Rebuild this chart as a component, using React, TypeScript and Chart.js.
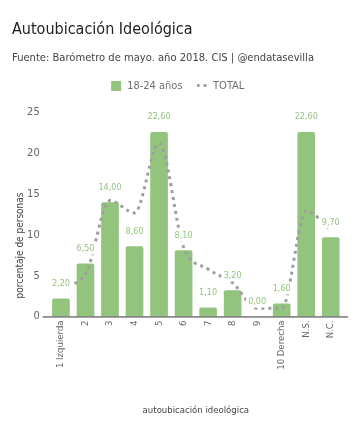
import React, { useEffect, useRef } from "react";
import { Chart, registerables, layouts } from "chart.js";

Chart.register(...registerables);

const categories = ["1 Izquierda", "2", "3", "4", "5", "6", "7", "8", "9", "10 Derecha", "N.S.", "N.C."];
const youthValues = [2.2, 6.5, 14.0, 8.6, 22.6, 8.1, 1.1, 3.2, 0.0, 1.6, 22.6, 9.7];
const totalValues = [3.6, 5.2, 14.2, 12.7, 21.2, 8.5, 5.8, 4.1, 1.0, 1.0, 12.9, 10.6];
const yTicks = [0, 5, 10, 15, 20, 25];

const FONT = "'DejaVu Sans Condensed', 'Liberation Sans', sans-serif";
const GREEN = "#93c47d";
const GREY_LINE = "#9e9e9e";

function dashMarker(): HTMLCanvasElement {
  const c = document.createElement("canvas");
  c.width = 11;
  c.height = 3;
  const ctx = c.getContext("2d")!;
  ctx.fillStyle = GREY_LINE;
  ctx.fillRect(0, 0, 3, 3);
  ctx.fillRect(7, 0, 3, 3);
  return c;
}

const spacerPlugin = {
  id: "legendSpacer",
  beforeInit(chart: any) {
    const box: any = {
      position: "top",
      weight: 1,
      fullSize: true,
      options: {},
      left: 0,
      top: 0,
      right: 0,
      bottom: 0,
      width: 0,
      height: 0,
      isHorizontal() {
        return true;
      },
      update(maxWidth: number) {
        this.width = maxWidth;
        this.height = 11;
      },
      draw() {},
    };
    layouts.addBox(chart, box);
  },
};

const labelPlugin = {
  id: "barLabels",
  afterDatasetsDraw(chart: any) {
    const ctx = chart.ctx;
    const meta = chart.getDatasetMeta(0);
    ctx.save();
    ctx.font = `9px ${FONT}`;
    ctx.textAlign = "center";
    ctx.textBaseline = "middle";
    meta.data.forEach((bar: any, i: number) => {
      const txt = youthValues[i].toFixed(2).replace(".", ",");
      const y = bar.y - 15;
      const w = ctx.measureText(txt).width;
      ctx.fillStyle = "#ffffff";
      ctx.fillRect(bar.x - w / 2 - 2, y - 6, w + 4, 12);
      ctx.fillStyle = GREEN;
      ctx.fillText(txt, bar.x, y);
    });
    ctx.restore();
  },
};

const axisPlugin = {
  id: "axisDecor",
  afterDraw(chart: any) {
    const { ctx, chartArea } = chart;
    ctx.save();
    ctx.strokeStyle = "#333333";
    ctx.lineWidth = 1;
    ctx.beginPath();
    ctx.moveTo(chartArea.left - 6, chartArea.bottom + 0.5);
    ctx.lineTo(chartArea.right + 5, chartArea.bottom + 0.5);
    ctx.stroke();
    ctx.translate(20, chartArea.bottom - 71);
    ctx.rotate(-Math.PI / 2);
    ctx.font = `10px ${FONT}`;
    ctx.fillStyle = "#444444";
    ctx.textAlign = "center";
    ctx.textBaseline = "middle";
    ctx.fillText("porcentaje de personas", 0, 0);
    ctx.restore();
  },
};

export default function App() {
  const ref = useRef<HTMLCanvasElement | null>(null);
  useEffect(() => {
    if (!ref.current) return;
    const marker = dashMarker();
    const chart = new Chart(ref.current, {
      type: "bar",
      data: {
        labels: categories,
        datasets: [
          {
            type: "bar",
            label: "18-24 años",
            data: youthValues,
            backgroundColor: GREEN,
            borderRadius: 2,
            order: 1,
          },
          {
            type: "line",
            label: "TOTAL",
            data: totalValues,
            borderColor: GREY_LINE,
            backgroundColor: GREY_LINE,
            borderWidth: 3,
            borderDash: [3, 4],
            cubicInterpolationMode: "monotone",
            pointRadius: 0,
            fill: false,
            order: 0,
          } as any,
        ],
      },
      options: {
        animation: false,
        responsive: true,
        maintainAspectRatio: false,
        layout: { padding: { left: 12, right: 18, bottom: 22, top: 0 } },
        plugins: {
          tooltip: { enabled: false },
          title: {
            display: true,
            text: "Autoubicación Ideológica",
            align: "start",
            color: "#222222",
            font: { family: FONT, size: 16, weight: "normal", lineHeight: 1.2 },
            padding: { top: 20, bottom: 7 },
          },
          subtitle: {
            display: true,
            text: "Fuente: Barómetro de mayo. año 2018. CIS | @endatasevilla",
            align: "start",
            color: "#444444",
            font: { family: FONT, size: 11.1, lineHeight: 1.1 },
            padding: { top: 6, bottom: 2 },
          },
          legend: {
            display: true,
            labels: {
              usePointStyle: true,
              boxWidth: 12,
              boxHeight: 10,
              color: "#6f6f6f",
              font: { family: FONT, size: 11 },
              padding: 14,
              generateLabels: () => [
                {
                  text: "18-24 años",
                  fillStyle: GREEN,
                  strokeStyle: GREEN,
                  lineWidth: 0,
                  pointStyle: "rect",
                  datasetIndex: 0,
                  hidden: false,
                  fontColor: "#6f6f6f",
                },
                {
                  text: "TOTAL",
                  fillStyle: GREY_LINE,
                  strokeStyle: GREY_LINE,
                  lineWidth: 0,
                  pointStyle: marker,
                  datasetIndex: 1,
                  hidden: false,
                  fontColor: "#6f6f6f",
                },
              ] as any,
            },
          },
        },
        scales: {
          x: {
            grid: { display: false, drawTicks: false },
            border: { display: false },
            ticks: {
              autoSkip: false,
              maxRotation: 90,
              minRotation: 90,
              color: "#666666",
              font: { family: FONT, size: 9.5 },
              padding: 4,
            },
            title: {
              display: true,
              text: "autoubicación ideológica",
              color: "#444444",
              font: { family: FONT, size: 9.5 },
              padding: { top: 30.8, bottom: 0 },
            },
          },
          y: {
            min: 0,
            max: 25,
            grid: { display: false, drawTicks: false },
            border: { display: false },
            afterFit: (axis: any) => {
              axis.width = 36.7;
            },
            afterBuildTicks: (axis: any) => {
              axis.ticks = yTicks.map((v) => ({ value: v }));
            },
            ticks: {
              color: "#666666",
              font: { family: FONT, size: 11 },
              padding: 9,
            },
          },
        },
      },
      plugins: [spacerPlugin, labelPlugin, axisPlugin],
    });
    return () => chart.destroy();
  }, []);
  return (
    <div style={{ position: "absolute", left: 0, top: 0, width: 361, height: 438, background: "#fff" }}>
      <canvas ref={ref} />
    </div>
  );
}
